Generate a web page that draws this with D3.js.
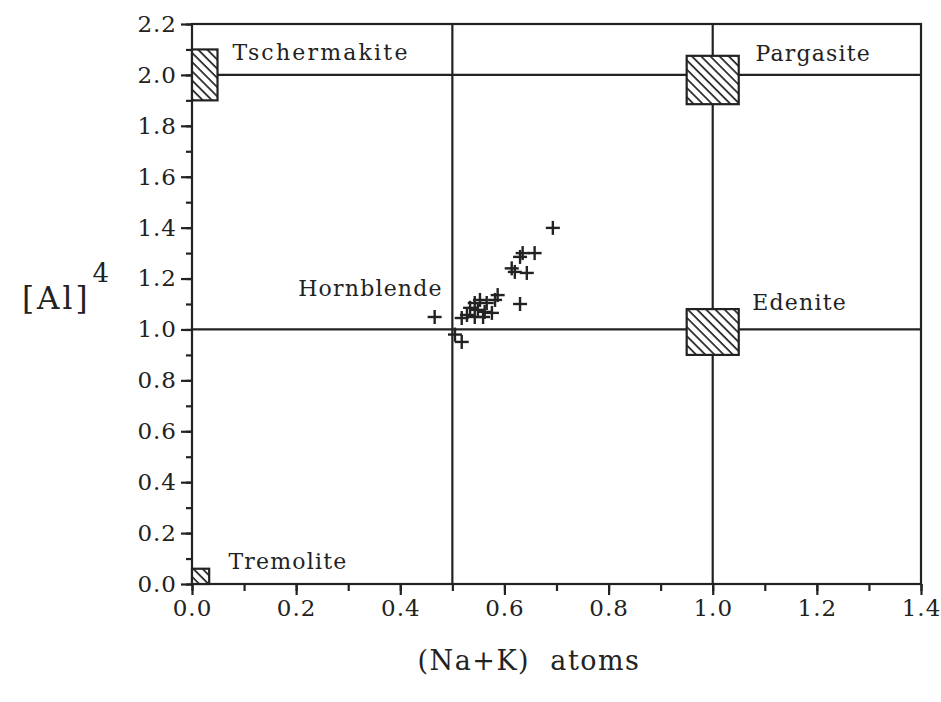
<!DOCTYPE html>
<html>
<head>
<meta charset="utf-8">
<script src="https://cdn.jsdelivr.net/npm/d3@7"></script>
<style>
  html, body { margin: 0; padding: 0; background: #ffffff; }
  svg { display: block; }
  text { font-family: "DejaVu Serif", "Liberation Serif", serif; fill: #222; }
</style>
</head>
<body>
<script>
// ---- data ----
const xTickValues = [0.0, 0.2, 0.4, 0.6, 0.8, 1.0, 1.2, 1.4];
const xTickLabels = ["0.0", "0.2", "0.4", "0.6", "0.8", "1.0", "1.2", "1.4"];
const yTickValues = [0.0, 0.2, 0.4, 0.6, 0.8, 1.0, 1.2, 1.4, 1.6, 1.8, 2.0, 2.2];
const yTickLabels = ["0.0", "0.2", "0.4", "0.6", "0.8", "1.0", "1.2", "1.4", "1.6", "1.8", "2.0", "2.2"];

// sample points (Na+K, [Al]4)
const pointsX = [0.466, 0.505, 0.518, 0.518, 0.528, 0.534, 0.543, 0.543, 0.549, 0.553, 0.559, 0.562, 0.566, 0.576, 0.582, 0.587, 0.630, 0.614, 0.620, 0.643, 0.630, 0.635, 0.658, 0.693];
const pointsY = [1.049, 0.980, 0.951, 1.045, 1.057, 1.085, 1.049, 1.104, 1.077, 1.116, 1.049, 1.069, 1.104, 1.065, 1.116, 1.135, 1.100, 1.240, 1.226, 1.222, 1.285, 1.300, 1.300, 1.399];

// end-member fields
const fieldNames = ["Tschermakite", "Pargasite", "Edenite", "Tremolite"];
const fieldX0 = [0.0, 0.95, 0.95, 0.0];
const fieldX1 = [0.049, 1.05, 1.05, 0.033];
const fieldY0 = [1.90, 1.885, 0.90, 0.0];
const fieldY1 = [2.10, 2.075, 1.08, 0.06];

// label anchors (data units)
const labelNames = ["Tschermakite", "Pargasite", "Edenite", "Hornblende", "Tremolite"];
const labelX = [0.078, 1.082, 1.076, 0.204, 0.070];
const labelY = [2.060, 2.055, 1.075, 1.130, 0.058];

// reference lines
const vLines = [0.5, 1.0];
const hLines = [1.0, 2.0];

// ---- drawing ----
const W = 941, H = 702;
const svg = d3.select("body").append("svg").attr("width", W).attr("height", H);

const x = d3.scaleLinear().domain([0, 1.4]).range([192, 921]);
const y = d3.scaleLinear().domain([0, 2.2]).range([584, 24]);
const ink = "#222";
const sw = 2.2;

const defs = svg.append("defs");
const pat = defs.append("pattern")
  .attr("id", "hatch").attr("patternUnits", "userSpaceOnUse")
  .attr("width", 6.5).attr("height", 6.5)
  .attr("patternTransform", "rotate(-45)");
pat.append("rect").attr("width", 6.5).attr("height", 6.5).attr("fill", "#fff");
pat.append("line").attr("x1", 1).attr("y1", 0).attr("x2", 1).attr("y2", 6.5)
  .attr("stroke", ink).attr("stroke-width", 1.7);

// frame
svg.append("rect")
  .attr("x", x(0)).attr("y", y(2.2))
  .attr("width", x(1.4) - x(0)).attr("height", y(0) - y(2.2))
  .attr("fill", "none").attr("stroke", ink).attr("stroke-width", sw);

// reference lines
svg.selectAll(".vl").data(vLines).enter().append("line")
  .attr("x1", d => x(d)).attr("x2", d => x(d))
  .attr("y1", y(0)).attr("y2", y(2.2))
  .attr("stroke", ink).attr("stroke-width", sw);
svg.selectAll(".hl").data(hLines).enter().append("line")
  .attr("x1", x(0)).attr("x2", x(1.4))
  .attr("y1", d => y(d)).attr("y2", d => y(d))
  .attr("stroke", ink).attr("stroke-width", sw);

// axes
const xMinor = d3.range(0, 15).map(i => i / 10);
const yMinor = d3.range(0, 23).map(i => i / 10);

const xAxisMinor = d3.axisBottom(x).tickValues(xMinor).tickSize(7).tickFormat("");
const xAxis = d3.axisBottom(x).tickValues(xTickValues).tickSize(11)
  .tickFormat((d, i) => xTickLabels[i]).tickPadding(5);
const yAxisMinor = d3.axisLeft(y).tickValues(yMinor).tickSize(6).tickFormat("");
const yAxis = d3.axisLeft(y).tickValues(yTickValues).tickSize(11)
  .tickFormat((d, i) => yTickLabels[i]).tickPadding(4);

function styleAxis(g) {
  g.select(".domain").remove();
  g.selectAll(".tick line").attr("stroke", ink).attr("stroke-width", sw);
  g.selectAll(".tick text").attr("fill", ink)
    .style("font-family", "'DejaVu Serif', serif").style("font-size", "23px")
    .style("letter-spacing", "1px");
}
svg.append("g").attr("transform", `translate(0,${y(0)})`).call(xAxisMinor).call(styleAxis);
svg.append("g").attr("transform", `translate(0,${y(0)})`).call(xAxis).call(styleAxis);
svg.append("g").attr("transform", `translate(${x(0)},0)`).call(yAxisMinor).call(styleAxis);
svg.append("g").attr("transform", `translate(${x(0)},0)`).call(yAxis).call(styleAxis);

// fields
svg.selectAll(".field").data(fieldNames).enter().append("rect")
  .attr("x", (d, i) => x(fieldX0[i]))
  .attr("y", (d, i) => y(fieldY1[i]))
  .attr("width", (d, i) => x(fieldX1[i]) - x(fieldX0[i]))
  .attr("height", (d, i) => y(fieldY0[i]) - y(fieldY1[i]))
  .attr("fill", "url(#hatch)").attr("stroke", ink).attr("stroke-width", sw);

// points (plus markers)
const arm = 7;
const pts = svg.selectAll(".pt").data(pointsX).enter().append("g")
  .attr("transform", (d, i) => `translate(${x(d)},${y(pointsY[i])})`);
pts.append("line").attr("x1", -arm).attr("x2", arm).attr("y1", 0).attr("y2", 0)
  .attr("stroke", ink).attr("stroke-width", 2.4);
pts.append("line").attr("x1", 0).attr("x2", 0).attr("y1", -arm).attr("y2", arm)
  .attr("stroke", ink).attr("stroke-width", 2.4);

// labels
svg.selectAll(".lab").data(labelNames).enter().append("text")
  .attr("x", (d, i) => x(labelX[i]))
  .attr("y", (d, i) => y(labelY[i]))
  .style("font-size", "22px").style("letter-spacing", (d, i) => i === 0 ? "2.2px" : "1.2px")
  .text(d => d);

// axis titles
const yt = svg.append("text").attr("x", 22).attr("y", 309)
  .style("font-size", "31px").style("letter-spacing", "3px");
yt.append("tspan").text("[Al]");
yt.append("tspan").attr("dx", 2).attr("dy", -27).style("font-size", "26px").text("4");

svg.append("text").attr("x", 529).attr("y", 670).attr("text-anchor", "middle")
  .style("font-size", "27px").style("letter-spacing", "1.5px")
  .attr("xml:space", "preserve")
  .text("(Na+K)  atoms");
</script>
</body>
</html>
